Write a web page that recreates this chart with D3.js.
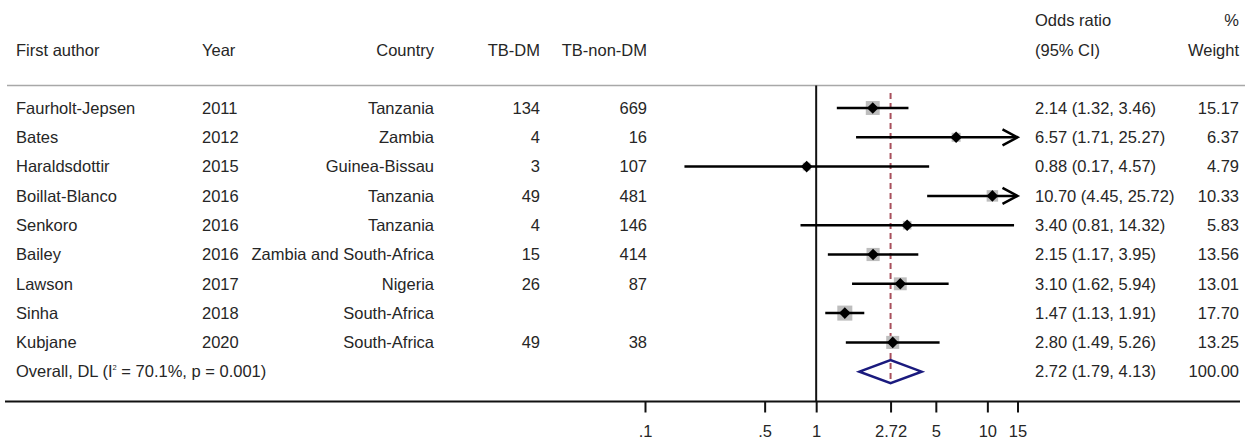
<!DOCTYPE html>
<html>
<head>
<meta charset="utf-8">
<script src="https://cdn.jsdelivr.net/npm/d3@7"></script>
<style>
  html, body { margin: 0; padding: 0; background: #fff; }
  svg { display: block; font-family: "Liberation Sans", Arial, sans-serif; }
</style>
</head>
<body>
<svg id="chart" width="1247" height="439"></svg>
<script>
const authors = ["Faurholt-Jepsen", "Bates", "Haraldsdottir", "Boillat-Blanco", "Senkoro", "Bailey", "Lawson", "Sinha", "Kubjane"];
const years = ["2011", "2012", "2015", "2016", "2016", "2016", "2017", "2018", "2020"];
const countries = ["Tanzania", "Zambia", "Guinea-Bissau", "Tanzania", "Tanzania", "Zambia and South-Africa", "Nigeria", "South-Africa", "South-Africa"];
const tbDM = ["134", "4", "3", "49", "4", "15", "26", "", "49"];
const tbNonDM = ["669", "16", "107", "481", "146", "414", "87", "", "38"];
const oddsRatio = [2.14, 6.57, 0.88, 10.70, 3.40, 2.15, 3.10, 1.47, 2.80];
const ciLow = [1.32, 1.71, 0.17, 4.45, 0.81, 1.17, 1.62, 1.13, 1.49];
const ciHigh = [3.46, 25.27, 4.57, 25.72, 14.32, 3.95, 5.94, 1.91, 5.26];
const weights = [15.17, 6.37, 4.79, 10.33, 5.83, 13.56, 13.01, 17.70, 13.25];
const overall = { or: 2.72, lo: 1.79, hi: 4.13, weight: 100.00 };
const tickValues = [0.1, 0.5, 1, 2.72, 5, 10, 15];
const tickLabels = [".1", ".5", "1", "2.72", "5", "10", "15"];

const svg = d3.select("#chart");
const fs = "16.5px";
const txtColor = "#262626";

const x = d3.scaleLog().domain([0.1, 15]).range([645, 1017.5]);
const rowIdx = d3.range(authors.length + 1);
const y = d3.scalePoint().domain(rowIdx).range([108, 371.7]);

function txt(xp, yp, s, anchor) {
  return svg.append("text")
    .attr("x", xp).attr("y", yp)
    .attr("dy", "0.35em")
    .attr("text-anchor", anchor || "start")
    .attr("font-size", fs)
    .attr("fill", txtColor)
    .text(s);
}

// Headers
txt(1035, 20, "Odds ratio");
txt(1239, 20, "%", "end");
const hy = 50;
txt(16, hy, "First author");
txt(202, hy, "Year");
txt(434, hy, "Country", "end");
txt(540, hy, "TB-DM", "end");
txt(647, hy, "TB-non-DM", "end");
txt(1035, hy, "(95% CI)");
txt(1239, hy, "Weight", "end");

// header separator
svg.append("line").attr("x1", 7).attr("x2", 1245).attr("y1", 85.5).attr("y2", 85.5)
  .attr("stroke", "#a8a8a8").attr("stroke-width", 1.5);

// axis line
svg.append("line").attr("x1", 5).attr("x2", 1240).attr("y1", 401.5).attr("y2", 401.5)
  .attr("stroke", "#111").attr("stroke-width", 2);

// null line at 1
svg.append("line").attr("x1", x(1)).attr("x2", x(1)).attr("y1", 85.5).attr("y2", 401.5)
  .attr("stroke", "#111").attr("stroke-width", 2);

// overall dashed line
svg.append("line").attr("x1", x(overall.or)).attr("x2", x(overall.or))
  .attr("y1", 93).attr("y2", y(authors.length) + 11.5)
  .attr("stroke", "#a8505c").attr("stroke-width", 2).attr("stroke-dasharray", "6,4");

// study rows
const fmt = d3.format(".2f");
authors.forEach((a, i) => {
  const yy = y(i);
  txt(16, yy, a);
  txt(202, yy, years[i]);
  txt(434, yy, countries[i], "end");
  txt(540, yy, tbDM[i], "end");
  txt(647, yy, tbNonDM[i], "end");
  txt(1035, yy, `${fmt(oddsRatio[i])} (${fmt(ciLow[i])}, ${fmt(ciHigh[i])})`);
  txt(1239, yy, fmt(weights[i]), "end");

  // weight box
  const side = 3.57 * Math.sqrt(weights[i]);
  svg.append("rect")
    .attr("x", x(oddsRatio[i]) - side / 2).attr("y", yy - side / 2)
    .attr("width", side).attr("height", side)
    .attr("fill", "#bdbdbd");

  const clipHi = ciHigh[i] > 15;
  const x1 = x(Math.max(ciLow[i], 0.1));
  const x2 = x(Math.min(ciHigh[i], 15));
  svg.append("line").attr("x1", x1).attr("x2", x2).attr("y1", yy).attr("y2", yy)
    .attr("stroke", "#000").attr("stroke-width", 2.5);
  if (clipHi) {
    svg.append("path")
      .attr("d", `M${x2 - 15},${yy - 8} L${x2},${yy} L${x2 - 15},${yy + 8}`)
      .attr("fill", "none").attr("stroke", "#000").attr("stroke-width", 2.5);
  }
  // point marker
  const cx = x(oddsRatio[i]), d = 5.8;
  svg.append("path")
    .attr("d", `M${cx},${yy - d} L${cx + d},${yy} L${cx},${yy + d} L${cx - d},${yy} Z`)
    .attr("fill", "#000");
});

// overall row
const oy = y(authors.length);
const ot = txt(16, oy, "Overall, DL (I");
ot.append("tspan").attr("font-size", "7.5px").attr("dy", "-7px").text("2");
ot.append("tspan").attr("dy", "7px").text(" = 70.1%, p = 0.001)");
txt(1035, oy, `${fmt(overall.or)} (${fmt(overall.lo)}, ${fmt(overall.hi)})`);
txt(1239, oy, fmt(overall.weight), "end");
svg.append("path")
  .attr("d", `M${x(overall.lo)},${oy} L${x(overall.or)},${oy - 11.5} L${x(overall.hi)},${oy} L${x(overall.or)},${oy + 11.5} Z`)
  .attr("fill", "none").attr("stroke", "#1a1a7e").attr("stroke-width", 2.5);

// axis ticks
const axis = d3.axisBottom(x).tickValues(tickValues)
  .tickFormat((d, i) => tickLabels[i]).tickSize(11).tickPadding(13);
const g = svg.append("g").attr("transform", "translate(0,401.5)").call(axis);
g.select(".domain").remove();
g.selectAll(".tick line").attr("stroke", "#111").attr("stroke-width", 2);
g.selectAll(".tick text").attr("font-size", fs).attr("fill", txtColor)
  .attr("font-family", "Liberation Sans, Arial, sans-serif");
</script>
</body>
</html>
